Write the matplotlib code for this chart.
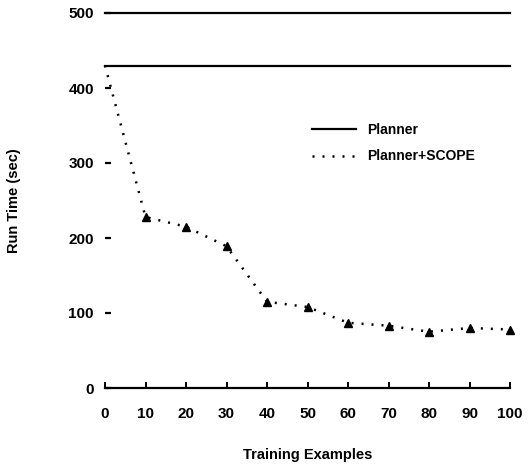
import numpy as np
import matplotlib.pyplot as plt

plt.rcParams['font.family'] = ['Liberation Sans', 'DejaVu Sans']
plt.rcParams['font.weight'] = 'bold'

# data
examples = [0, 10, 20, 30, 40, 50, 60, 70, 80, 90, 100]
scope_time = [430, 228, 215, 189, 115, 108, 87, 83, 75, 80, 78]
planner_time = 430

fig = plt.figure(figsize=(5.28, 4.70), dpi=100)
ax = fig.add_axes([105/528, 82/470, 405/528, 375/470])

ax.plot([examples[0], examples[-1]], [planner_time, planner_time],
        color='black', lw=1.6, label='Planner', clip_on=False)
ax.plot(examples, scope_time, color='black', lw=1.8,
        linestyle=(0, (0.8, 3.2)), label='Planner+SCOPE', clip_on=False)
ax.plot(examples[1:], scope_time[1:], linestyle='none', marker='^',
        color='black', markersize=6, clip_on=False)

ax.set_xlim(0, 100)
ax.set_ylim(0, 500)
ax.set_xticks(examples)
ax.set_yticks([0, 100, 200, 300, 400, 500])

ax.spines['left'].set_visible(False)
ax.spines['right'].set_visible(False)
ax.spines['top'].set_linewidth(1.6)
ax.spines['bottom'].set_linewidth(1.6)
ax.tick_params(axis='x', direction='in', length=4, width=1.4, pad=14,
               labelsize=11)
ax.tick_params(axis='y', direction='in', length=4, width=1.6, pad=8,
               labelsize=11)
for lab in ax.get_xticklabels() + ax.get_yticklabels():
    lab.set_fontweight('bold')

ax.set_xlabel('Training Examples', fontsize=10.5, fontweight='bold', labelpad=19)
ax.set_ylabel('Run Time (sec)', fontsize=10.5, fontweight='bold', labelpad=34)

leg = ax.legend(loc='upper left', bbox_to_anchor=(0.48, 0.74), frameon=False,
                handlelength=3.2, labelspacing=0.9, prop={'weight': 'bold', 'size': 10})

fig.savefig('out.png', dpi=100)
